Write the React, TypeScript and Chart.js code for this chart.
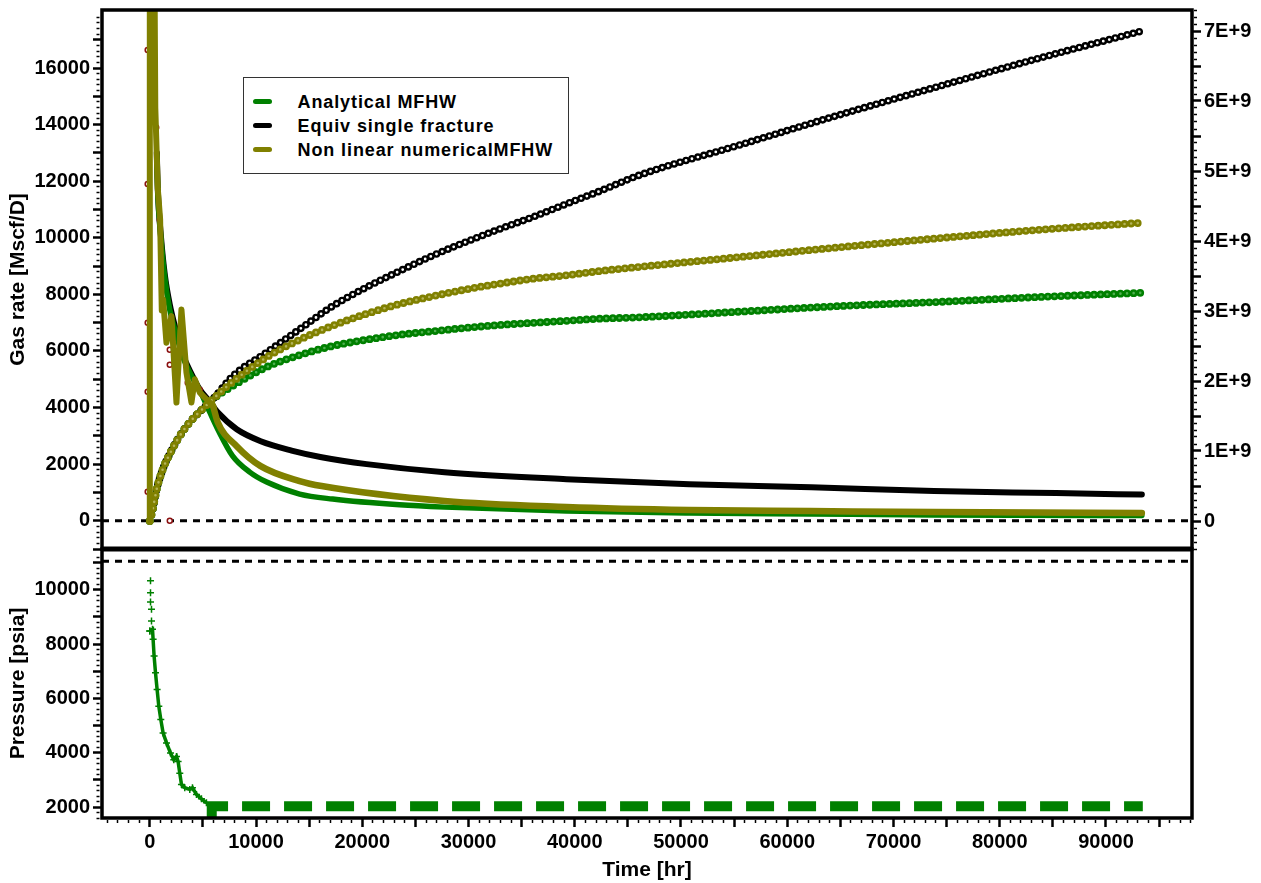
import React, { useEffect, useRef } from 'react';
import { Chart, registerables } from 'chart.js';

Chart.register(...registerables);

const FONT = '"Liberation Sans", Arial, Helvetica, sans-serif';

// ---- axis ranges ----
const X_MIN = -4500;
const X_MAX = 98100;
const RATE_MIN = -1000;
const RATE_MAX = 18050;
const CUM_MIN = -0.4e9;
const CUM_MAX = 7.3e9;
const P_MIN = 1600;
const P_MAX = 11500;

// time-axis tick positions (every 1000 hr, labelled every 10000 hr)
const X_TICK_VALUES: number[] = [];
for (let v = -4000; v <= 98000; v += 1000) X_TICK_VALUES.push(v);

// ---- legend ----
const legendLabels = ['Analytical MFHW', 'Equiv single fracture', 'Non linear numericalMFHW'];
const legendColors = ['#008000', '#000000', '#808000'];

// ---- gas rate [Mscf/D] vs time [hr] ----
const analyticalRate: [number, number][] = [
  [658, 12900], [752, 11600], [1034, 10050], [1411, 8600], [1881, 7450], [2445, 6650],
  [3103, 5800], [3950, 5100], [4702, 4600], [5642, 3835], [6394, 3235], [7805, 2283],
  [9404, 1718], [11002, 1365], [14106, 942], [17209, 765], [23509, 560], [27741, 480],
  [39214, 342], [50780, 272], [62253, 236], [73820, 201], [93380, 183],
];
const equivRate: [number, number][] = [
  [658, 13007], [752, 11695], [1034, 10108], [1411, 8697], [1881, 7638], [2445, 6756],
  [3103, 5874], [3950, 5169], [4702, 4640], [5454, 4288], [6394, 3830], [8181, 3230],
  [10438, 2808], [13350, 2480], [16174, 2244], [20406, 2000], [27741, 1714], [39214, 1467],
  [50780, 1291], [62253, 1185], [73820, 1048], [85292, 977], [93380, 924],
];
const numericalRateEarly: [number, number][] = [
  [0, 0], [0, 20000], [430, 20000], [517, 14587], [752, 11730], [970, 10657], [1128, 7433],
  [1254, 7822], [1567, 6293], [2038, 7232], [2508, 4177], [2978, 7468], [3448, 5235],
  [3919, 4177], [4232, 4999], [4702, 4530], [5329, 4293], [5956, 4057],
];
const numericalRateLate: [number, number][] = [
  [5956, 4057], [6394, 3482], [8181, 2635], [10438, 1930], [14106, 1400], [16174, 1224],
  [27741, 695], [39214, 483], [50780, 377], [62253, 342], [73820, 307], [93380, 272],
];
const measuredRate: [number, number][] = [
  [-200, 16640], [-200, 11900], [-200, 7000], [-200, 4560], [-200, 1020], [600, 13900],
  [940, 10640], [1880, 6040], [1880, 5510], [3570, 4880], [4700, 4630], [1880, 0],
];

// ---- cumulative gas [scf] vs time [hr] ----
const analyticalCum: [number, number][] = [
  [0, 0], [282, 0.17e9], [658, 0.46e9], [1222, 0.74e9], [1881, 0.96e9], [2633, 1.17e9],
  [3385, 1.34e9], [4232, 1.49e9], [5172, 1.63e9], [5924, 1.74e9], [7805, 1.93e9],
  [11002, 2.2e9], [14106, 2.37e9], [17209, 2.5e9], [20406, 2.59e9], [23509, 2.66e9],
  [26613, 2.71e9], [29810, 2.76e9], [32913, 2.8e9], [36016, 2.83e9], [39214, 2.86e9],
  [42317, 2.89e9], [46079, 2.91e9], [55482, 2.99e9], [64886, 3.07e9], [74290, 3.13e9],
  [83694, 3.2e9], [93380, 3.26e9],
];
const equivCum: [number, number][] = [
  [0, 0], [282, 0.17e9], [658, 0.46e9], [1222, 0.74e9], [1881, 0.96e9], [2633, 1.17e9],
  [3385, 1.34e9], [4232, 1.49e9], [5172, 1.63e9], [5924, 1.74e9], [7805, 2.07e9],
  [11002, 2.41e9], [14106, 2.74e9], [17209, 3.07e9], [20406, 3.34e9], [23509, 3.57e9],
  [26613, 3.79e9], [29810, 3.99e9], [32913, 4.17e9], [36016, 4.34e9], [39214, 4.53e9],
  [42317, 4.71e9], [46079, 4.94e9], [55482, 5.37e9], [64886, 5.8e9], [74290, 6.21e9],
  [83694, 6.61e9], [93380, 7.0e9],
];
const numericalCum: [number, number][] = [
  [0, 0], [282, 0.17e9], [658, 0.46e9], [1222, 0.74e9], [1881, 0.96e9], [2633, 1.17e9],
  [3385, 1.34e9], [4232, 1.49e9], [5172, 1.63e9], [5924, 1.74e9], [7805, 1.99e9],
  [11002, 2.34e9], [14106, 2.59e9], [17209, 2.79e9], [20406, 2.96e9], [23509, 3.1e9],
  [26613, 3.21e9], [29810, 3.31e9], [32913, 3.39e9], [36016, 3.46e9], [39214, 3.51e9],
  [42317, 3.57e9], [46079, 3.63e9], [55482, 3.77e9], [64886, 3.91e9], [74290, 4.04e9],
  [83694, 4.16e9], [93380, 4.26e9],
];

// ---- pressure [psia] vs time [hr] ----
const pressureEarly: [number, number][] = [
  [66, 10329], [66, 9893], [66, 9553], [160, 9284], [160, 8852], [0, 8483],
];
const pressureTrace: [number, number][] = [
  [0, 8483], [254, 8545], [310, 8176], [405, 7560], [536, 6945], [687, 6330], [847, 5716],
  [1035, 5224], [1251, 4732], [1571, 4363], [1947, 3993], [2258, 3742], [2510, 3866],
  [2662, 3680], [2822, 3250], [2979, 2837], [3292, 2714], [3762, 2652], [4015, 2714],
  [4392, 2468], [4860, 2307], [5330, 2160],
];
const pressureConstraint: [number, number][] = [[5830, 1600], [5830, 2030], [93470, 2030]];
const pressureInitial: [number, number][] = [[X_MIN, 11050], [X_MAX, 11050]];
const rateZero: [number, number][] = [[X_MIN, 0], [X_MAX, 0]];

const pts = (a: [number, number][]) => a.map(([x, y]) => ({ x, y }));
const isMult = (v: number, m: number) => Math.abs(v / m - Math.round(v / m)) < 1e-6;

function gridFor(mid: number, dashOffset: number, shownStep: number) {
  return {
    display: true,
    drawOnChartArea: false,
    drawTicks: true,
    tickLength: 9,
    tickColor: (c: any) => (isMult(c.tick.value, shownStep) ? '#000' : 'rgba(0,0,0,0)'),
    tickWidth: (c: any) => (isMult(c.tick.value, mid) ? 2.5 : 1.5),
    tickBorderDash: (c: any) => (isMult(c.tick.value, mid) ? [] : [3, 30]),
    tickBorderDashOffset: (c: any) => (isMult(c.tick.value, mid) ? 0 : dashOffset),
  };
}

const fixSize = (w: number | null, h: number | null) => (s: any) => {
  if (w !== null) s.width = w;
  if (h !== null) s.height = h;
  s.paddingLeft = 0;
  s.paddingRight = 0;
  s.paddingTop = 0;
  s.paddingBottom = 0;
};

const tickFont = { size: 20, weight: 'bold' as const, family: FONT };
const titleFont = { size: 21, weight: 'bold' as const, family: FONT };

const framePlugin = {
  id: 'frame',
  afterDatasetsDraw(chart: any) {
    const { ctx, chartArea } = chart;
    const r = chart.scales.yRate;
    const p = chart.scales.yP;
    const w = chartArea.right - chartArea.left;
    ctx.save();
    ctx.strokeStyle = '#000';
    ctx.lineWidth = 3.5;
    ctx.strokeRect(chartArea.left, r.top, w, r.bottom - r.top);
    ctx.strokeRect(chartArea.left, p.top, w, p.bottom - p.top);
    ctx.lineWidth = 5;
    ctx.beginPath();
    ctx.moveTo(chartArea.left, r.bottom);
    ctx.lineTo(chartArea.right, r.bottom);
    ctx.stroke();
    ctx.restore();
  },
};

function cumDatasets(
  data: [number, number][], color: string, inner: string,
  width: number, innerW: number, gap: number, order: number,
) {
  const base = {
    type: 'line' as const,
    data: pts(data),
    yAxisID: 'yCum',
    pointRadius: 0,
    fill: false,
    cubicInterpolationMode: 'monotone' as const,
    borderCapStyle: 'round' as const,
    borderJoinStyle: 'round' as const,
    borderDash: [0, gap],
  };
  return [
    { ...base, label: 'cum-inner', borderColor: inner, borderWidth: innerW, order },
    { ...base, label: 'cum-outer', borderColor: color, borderWidth: width, order: order + 1 },
  ];
}

function rateDataset(data: [number, number][], color: string, width: number, order: number, smooth: boolean) {
  return {
    type: 'line' as const,
    label: 'rate',
    data: pts(data),
    yAxisID: 'yRate',
    borderColor: color,
    borderWidth: width,
    pointRadius: 0,
    fill: false,
    tension: 0,
    cubicInterpolationMode: smooth ? ('monotone' as const) : ('default' as const),
    borderCapStyle: 'round' as const,
    borderJoinStyle: 'round' as const,
    order,
  };
}

export default function App() {
  const ref = useRef<HTMLCanvasElement>(null);

  useEffect(() => {
    Chart.defaults.font.family = FONT;
    Chart.defaults.color = '#000';
    const datasets: any[] = [
      rateDataset(numericalRateEarly, '#808000', 6, 1, false),
      rateDataset(numericalRateLate, '#808000', 6.5, 1, true),
      ...cumDatasets(numericalCum, '#808000', '#b4b45a', 7.8, 2.6, 6.6, 2),
      {
        type: 'line', label: 'measured', data: pts(measuredRate), yAxisID: 'yRate',
        showLine: false, pointRadius: 2.5, pointBorderWidth: 1.5,
        pointBorderColor: '#8b1010', pointBackgroundColor: '#ffffff', order: 4,
      },
      rateDataset(analyticalRate, '#008000', 5.5, 5, true),
      ...cumDatasets(analyticalCum, '#008000', '#50b050', 7.8, 2.6, 6.6, 6),
      rateDataset(equivRate, '#000000', 6, 8, true),
      ...cumDatasets(equivCum, '#000000', '#ffffff', 7.6, 2.8, 6.2, 9),
      {
        type: 'line', label: 'zero', data: pts(rateZero), yAxisID: 'yRate',
        borderColor: '#000', borderWidth: 3, borderDash: [7, 6], pointRadius: 0, order: 11,
      },
      {
        type: 'line', label: 'pressure-early', data: pts(pressureEarly), yAxisID: 'yP',
        showLine: false, pointStyle: 'cross', pointRadius: 3.5, pointBorderWidth: 1.5,
        pointBorderColor: '#008000', order: 1,
      },
      {
        type: 'line', label: 'pressure', data: pts(pressureTrace), yAxisID: 'yP',
        borderColor: '#008000', borderWidth: 3.5, tension: 0,
        pointStyle: 'cross', pointRadius: 3.5, pointBorderWidth: 1.5,
        pointBorderColor: '#008000', order: 1,
      },
      {
        type: 'line', label: 'pconstraint', data: pts(pressureConstraint), yAxisID: 'yP',
        borderColor: '#008000', borderWidth: 10, borderDash: [28, 14], borderCapStyle: 'butt',
        pointRadius: 0, order: 2,
      },
      {
        type: 'line', label: 'pinit', data: pts(pressureInitial), yAxisID: 'yP',
        borderColor: '#000', borderWidth: 3, borderDash: [7, 6], pointRadius: 0, order: 3,
      },
    ];

    const chart = new Chart(ref.current as HTMLCanvasElement, {
      type: 'line',
      data: { datasets },
      plugins: [framePlugin],
      options: {
        responsive: false,
        devicePixelRatio: 1,
        animation: false,
        layout: { padding: { top: 10, left: 0, right: 0, bottom: 0 } },
        plugins: { legend: { display: false }, tooltip: { enabled: false } },
        events: [],
        scales: {
          x: {
            type: 'linear', position: 'bottom', min: X_MIN, max: X_MAX,
            border: { display: false },
            grid: gridFor(5000, 31, 1000),
            ticks: {
              autoSkip: false, maxRotation: 0, minRotation: 0, padding: 3,
              font: tickFont, color: '#000',
              callback: (v: any) => (isMult(Number(v), 10000) ? String(Math.round(Number(v))) : ''),
            },
            afterBuildTicks: (s: any) => {
              s.ticks = X_TICK_VALUES.map((value) => ({ value }));
            },
            title: {
              display: true, text: 'Time [hr]', color: '#000',
              font: titleFont, padding: { top: 0, bottom: 0 },
            },
            afterFit: fixSize(null, 65),
          },
          yRate: {
            type: 'linear', position: 'left', stack: 'left', stackWeight: 539, weight: 2,
            min: RATE_MIN, max: RATE_MAX,
            border: { display: false },
            grid: gridFor(1000, 29.5, 200),
            ticks: {
              stepSize: 200, autoSkip: false, padding: 3, maxTicksLimit: 500, font: tickFont, color: '#000',
              callback: (v: any) => {
                const n = Number(v);
                return n >= 0 && isMult(n, 2000) ? String(Math.round(n)) : '';
              },
            },
            title: {
              display: true, text: 'Gas rate [Mscf/D]', color: '#000',
              font: titleFont, padding: { top: 6, bottom: 0 },
            },
            afterFit: fixSize(102, null),
          },
          yP: {
            type: 'linear', position: 'left', stack: 'left', stackWeight: 269, weight: 1,
            min: P_MIN, max: P_MAX,
            border: { display: false },
            grid: gridFor(1000, 29.5, 200),
            ticks: {
              stepSize: 200, autoSkip: false, padding: 3, maxTicksLimit: 500, font: tickFont, color: '#000',
              callback: (v: any) => {
                const n = Number(v);
                return n >= 2000 && n <= 10000 && isMult(n, 2000) ? String(Math.round(n)) : '';
              },
            },
            title: {
              display: true, text: 'Pressure [psia]', color: '#000',
              font: titleFont, padding: { top: 6, bottom: 0 },
            },
            afterFit: fixSize(102, null),
          },
          yCum: {
            type: 'linear', position: 'right', stack: 'right', stackWeight: 539, weight: 1,
            min: CUM_MIN, max: CUM_MAX,
            border: { display: false },
            grid: gridFor(0.5e9, 31, 1e8),
            ticks: {
              stepSize: 1e8, autoSkip: false, padding: 3, maxTicksLimit: 500, font: tickFont, color: '#000',
              callback: (v: any) => {
                const n = Number(v);
                if (n < -1 || !isMult(n, 1e9)) return '';
                const k = Math.round(n / 1e9);
                return k === 0 ? '0' : `${k}E+9`;
              },
            },
            afterFit: fixSize(69, null),
          },
          yDummy: {
            type: 'linear', position: 'right', stack: 'right', stackWeight: 269, weight: 2,
            min: 0, max: 1,
            border: { display: false },
            grid: { display: false },
            ticks: { display: false },
            afterFit: fixSize(69, null),
          },
        },
      } as any,
    });
    return () => chart.destroy();
  }, []);

  return (
    <div style={{ position: 'fixed', left: 0, top: 0, width: 1261, height: 883, background: '#fff' }}>
      <canvas ref={ref} width={1261} height={883} style={{ display: 'block', width: 1261, height: 883 }} />
      <div
        style={{
          position: 'absolute', left: 243, top: 77, width: 326, height: 97,
          boxSizing: 'border-box', border: '1.5px solid #333', background: '#fff',
          fontFamily: FONT, fontWeight: 700, fontSize: 18, letterSpacing: '0.9px', color: '#000',
        }}
      >
        {legendLabels.map((label, i) => (
          <div key={label} style={{ position: 'absolute', left: 0, top: 11.5 + i * 24, height: 24, width: 320 }}>
            <div
              style={{
                position: 'absolute', left: 8.5, top: 9.5, width: 19, height: 5,
                borderRadius: 3, background: legendColors[i],
              }}
            />
            <div style={{ position: 'absolute', left: 53.5, top: 0, lineHeight: '24px', whiteSpace: 'nowrap' }}>
              {label}
            </div>
          </div>
        ))}
      </div>
    </div>
  );
}
